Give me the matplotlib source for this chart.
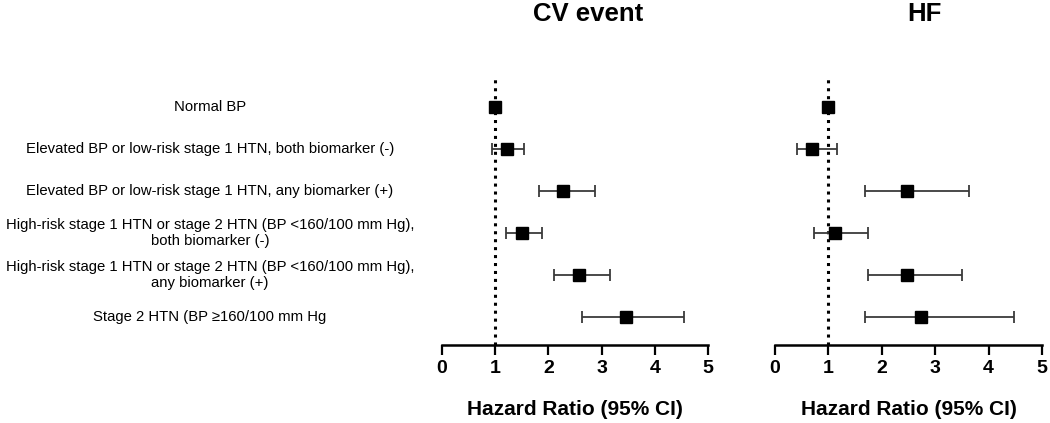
import matplotlib
matplotlib.use("Agg")
import matplotlib.pyplot as plt
from matplotlib.transforms import blended_transform_factory

categories = [
    "Normal BP",
    "Elevated BP or low-risk stage 1 HTN, both biomarker (-)",
    "Elevated BP or low-risk stage 1 HTN, any biomarker (+)",
    "High-risk stage 1 HTN or stage 2 HTN (BP <160/100 mm Hg),\nboth biomarker (-)",
    "High-risk stage 1 HTN or stage 2 HTN (BP <160/100 mm Hg),\nany biomarker (+)",
    "Stage 2 HTN (BP \u2265160/100 mm Hg",
]

cv_hr = [1.00, 1.22, 2.28, 1.50, 2.57, 3.46]
cv_lo = [1.00, 0.94, 1.82, 1.21, 2.10, 2.63]
cv_hi = [1.00, 1.55, 2.88, 1.88, 3.15, 4.55]

hf_hr = [1.00, 0.69, 2.48, 1.13, 2.48, 2.74]
hf_lo = [1.00, 0.41, 1.69, 0.73, 1.75, 1.69]
hf_hi = [1.00, 1.16, 3.64, 1.74, 3.50, 4.48]

titles = ["CV event", "HF"]
xlabel = "Hazard Ratio (95% CI)"
xticks = [0, 1, 2, 3, 4, 5]

plt.rcParams['font.family'] = ['Liberation Sans', 'DejaVu Sans']

fig = plt.figure(figsize=(10.5, 4.23), dpi=100)
ax1 = fig.add_axes([442/1050, 78/423, 266/1050, 270/423])
ax2 = fig.add_axes([775/1050, 78/423, 267/1050, 270/423])

ypos = list(range(len(categories)))

for ax, hr, lo, hi in [(ax1, cv_hr, cv_lo, cv_hi),
                       (ax2, hf_hr, hf_lo, hf_hi)]:
    ax.axvline(1, color='black', linestyle=(0, (1, 1.6)), lw=2.2, zorder=1)
    for i in range(len(hr)):
        if hi[i] - lo[i] > 0:
            ax.errorbar([hr[i]], [ypos[i]],
                        xerr=[[hr[i] - lo[i]], [hi[i] - hr[i]]],
                        fmt='none', ecolor='#3a3a3a', elinewidth=1.3,
                        capsize=4.5, capthick=1.3, zorder=2)
    ax.plot(hr, ypos, linestyle='none', marker='s', markersize=9,
            color='black', zorder=3)
    ax.set_xlim(0, 5)
    ax.set_ylim(5.67, -0.76)
    ax.set_xticks(xticks)
    ax.set_xticklabels([str(t) for t in xticks], fontsize=14, fontweight='bold')
    ax.tick_params(axis='x', length=7, width=1.6, pad=4)
    for s in ['top', 'right', 'left']:
        ax.spines[s].set_visible(False)
    ax.spines['bottom'].set_linewidth(1.8)
    ax.set_xlabel(xlabel, fontsize=15, fontweight='bold', labelpad=16)
    ax.set_yticks([])

fig.text(588/1050, 1 - 2/423, titles[0], ha='center', va='top',
         fontsize=18.5, fontweight='bold')
fig.text(924/1050, 1 - 2/423, titles[1], ha='center', va='top',
         fontsize=18.5, fontweight='bold')

tr = blended_transform_factory(fig.transFigure, ax1.transData)
for y, lab in zip(ypos, categories):
    fig.text(210/1050, y, lab, transform=tr, ha='center', va='center',
             fontsize=10.7, linespacing=1.2)

fig.savefig("out.png", dpi=100)
